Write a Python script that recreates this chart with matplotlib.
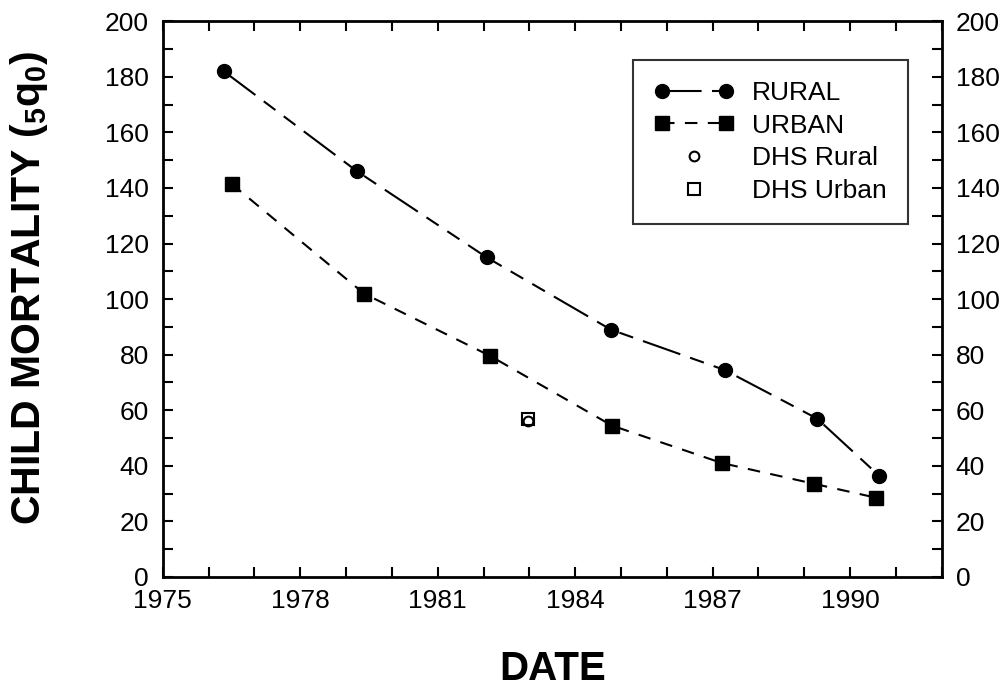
import numpy as np
import matplotlib
matplotlib.use("Agg")
import matplotlib.pyplot as plt
from matplotlib.ticker import FixedLocator, MultipleLocator
from matplotlib.legend_handler import HandlerLine2D

plt.rcParams['font.family'] = ['Liberation Sans', 'DejaVu Sans']
plt.rcParams['mathtext.fontset'] = 'custom'
plt.rcParams['mathtext.rm'] = 'Liberation Sans'
plt.rcParams['mathtext.bf'] = 'Liberation Sans:bold'

# data
rural_year = [1976.33, 1979.24, 1982.07, 1984.78, 1987.26, 1989.28, 1990.63]
rural_q = [182, 146, 115, 89, 74.5, 57, 36.5]
urban_year = [1976.5, 1979.39, 1982.15, 1984.8, 1987.2, 1989.22, 1990.57]
urban_q = [141.5, 102, 79.5, 54.5, 41, 33.5, 28.5]
dhs_year = [1982.96]
dhs_rural = [56]
dhs_urban = [57]
year_ticks = [1975, 1978, 1981, 1984, 1987, 1990]

fig = plt.figure(figsize=(10.05, 6.86), dpi=100)
ax = fig.add_axes([0.162, 0.159, 0.775, 0.81])

l1, = ax.plot(rural_year, rural_q, color='k', lw=1.5,
              ls=(0, (19, 5, 7, 5, 7, 5)), marker='o', ms=10, label='RURAL')
l2, = ax.plot(urban_year, urban_q, color='k', lw=1.5, ls=(0, (6, 5)),
              marker='s', ms=9.5, label='URBAN')
l3, = ax.plot(dhs_year, dhs_rural, ls='none', marker='o', ms=7, mfc='white',
              mec='k', mew=1.5, label='DHS Rural')
l4, = ax.plot(dhs_year, dhs_urban, ls='none', marker='s', ms=8, mfc='none',
              mec='k', mew=1.5, label='DHS Urban')

ax.set_xlim(1975, 1992)
ax.set_ylim(0, 200)
ax.xaxis.set_major_locator(FixedLocator(year_ticks))
ax.xaxis.set_minor_locator(MultipleLocator(1))
ax.yaxis.set_major_locator(MultipleLocator(20))
ax.yaxis.set_minor_locator(MultipleLocator(10))
ax.tick_params(which='both', direction='in', top=True, right=True,
               labelright=True, width=1.5, labelsize=19, length=7)
ax.tick_params(axis='x', pad=9)
ax.tick_params(axis='y', pad=10)
for s in ax.spines.values():
    s.set_linewidth(2)

ax.set_xlabel('DATE', fontsize=29, fontweight='bold', labelpad=26)
ax.set_ylabel(r'CHILD MORTALITY ($\mathbf{_5q_0}$)', fontsize=29.5,
              fontweight='bold')
ax.yaxis.set_label_coords(-0.145, 0.52)

leg = ax.legend(handles=[l1, l2, l3, l4], loc='upper right',
                bbox_to_anchor=(0.967, 0.945), fontsize=19, frameon=True,
                fancybox=False, edgecolor='k', handlelength=3.0,
                borderpad=0.8, labelspacing=0.33, handletextpad=0.7,
                borderaxespad=0.3,
                handler_map={l1: HandlerLine2D(numpoints=2),
                             l2: HandlerLine2D(numpoints=2),
                             l3: HandlerLine2D(numpoints=1),
                             l4: HandlerLine2D(numpoints=1)})
leg.get_frame().set_linewidth(1.5)

fig.savefig('out.png', dpi=100)
